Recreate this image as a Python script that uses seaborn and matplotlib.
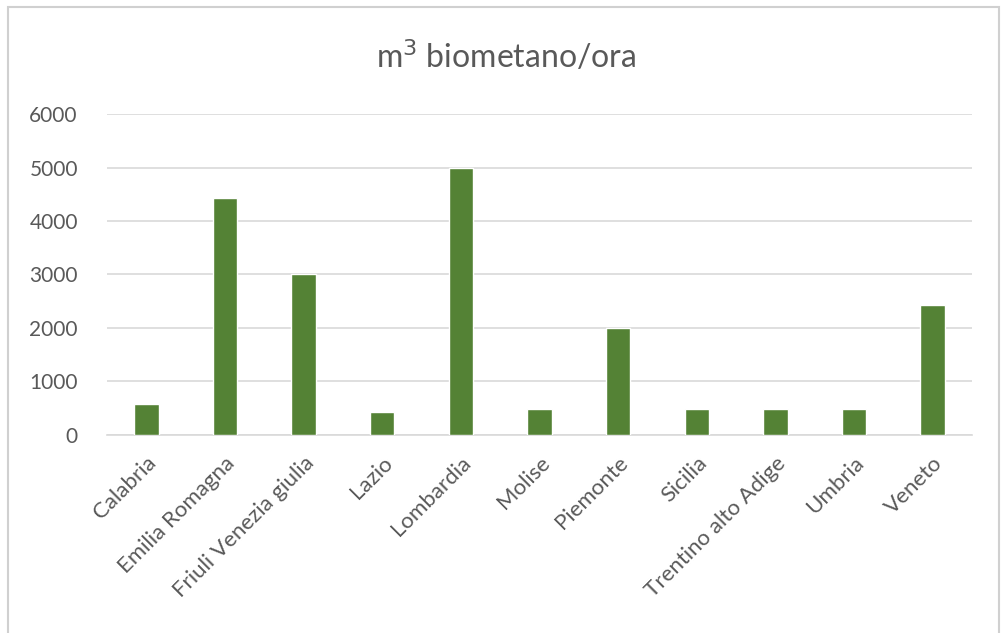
import matplotlib
matplotlib.use("Agg")
import matplotlib.pyplot as plt
import seaborn as sns
import pandas as pd
from matplotlib.patches import Rectangle

regions = ["Calabria", "Emilia Romagna", "Friuli Venezia giulia", "Lazio", "Lombardia",
           "Molise", "Piemonte", "Sicilia", "Trentino alto Adige", "Umbria", "Veneto"]
values = [580, 4430, 3000, 420, 5000, 480, 2000, 480, 480, 480, 2430]
y_ticks = [0, 1000, 2000, 3000, 4000, 5000, 6000]

df = pd.DataFrame({"regione": regions, "m3": values})

sns.set_theme(style="white")
plt.rcParams["font.family"] = ["Lato", "DejaVu Sans"]

fig = plt.figure(figsize=(10.04, 6.33), dpi=100)
ax = fig.add_axes([107 / 1004, 1 - 434.7 / 633, (972 - 107) / 1004, (434.7 - 114.3) / 633])

sns.barplot(data=df, x="regione", y="m3", color="#548235", width=0.31,
            saturation=1, ax=ax, zorder=3)

ax.set_ylim(0, 6000)
ax.set_xlim(-0.5, len(regions) - 0.5)
ax.set_yticks(y_ticks)
ax.set_yticklabels([str(v) for v in y_ticks], fontsize=15, color="#595959")
ax.set_xticks(range(len(regions)))
ax.set_xticklabels(regions, rotation=45, ha="right", rotation_mode="anchor",
                   fontsize=16, color="#595959")
ax.tick_params(axis="x", length=0, pad=13)
ax.tick_params(axis="y", length=0, pad=21)
ax.yaxis.grid(True, color="#d9d9d9", linewidth=1.2, zorder=0)
ax.set_axisbelow(True)
for side in ["top", "right", "left"]:
    ax.spines[side].set_visible(False)
ax.spines["bottom"].set_color("#d9d9d9")
ax.spines["bottom"].set_linewidth(1.2)
ax.set_xlabel("")
ax.set_ylabel("")

fig.text(506 / 1004, 1 - 57 / 633, "m$^3$ biometano/ora", ha="center", va="center",
         fontsize=23, color="#595959")

# chart frame
fig.patches.append(Rectangle((8 / 1004, -0.01), (999 - 8) / 1004, 1 - 7 / 633 + 0.01,
                             transform=fig.transFigure, fill=False,
                             edgecolor="#d0d0d0", linewidth=1.5))

fig.savefig("out.png", dpi=100)
